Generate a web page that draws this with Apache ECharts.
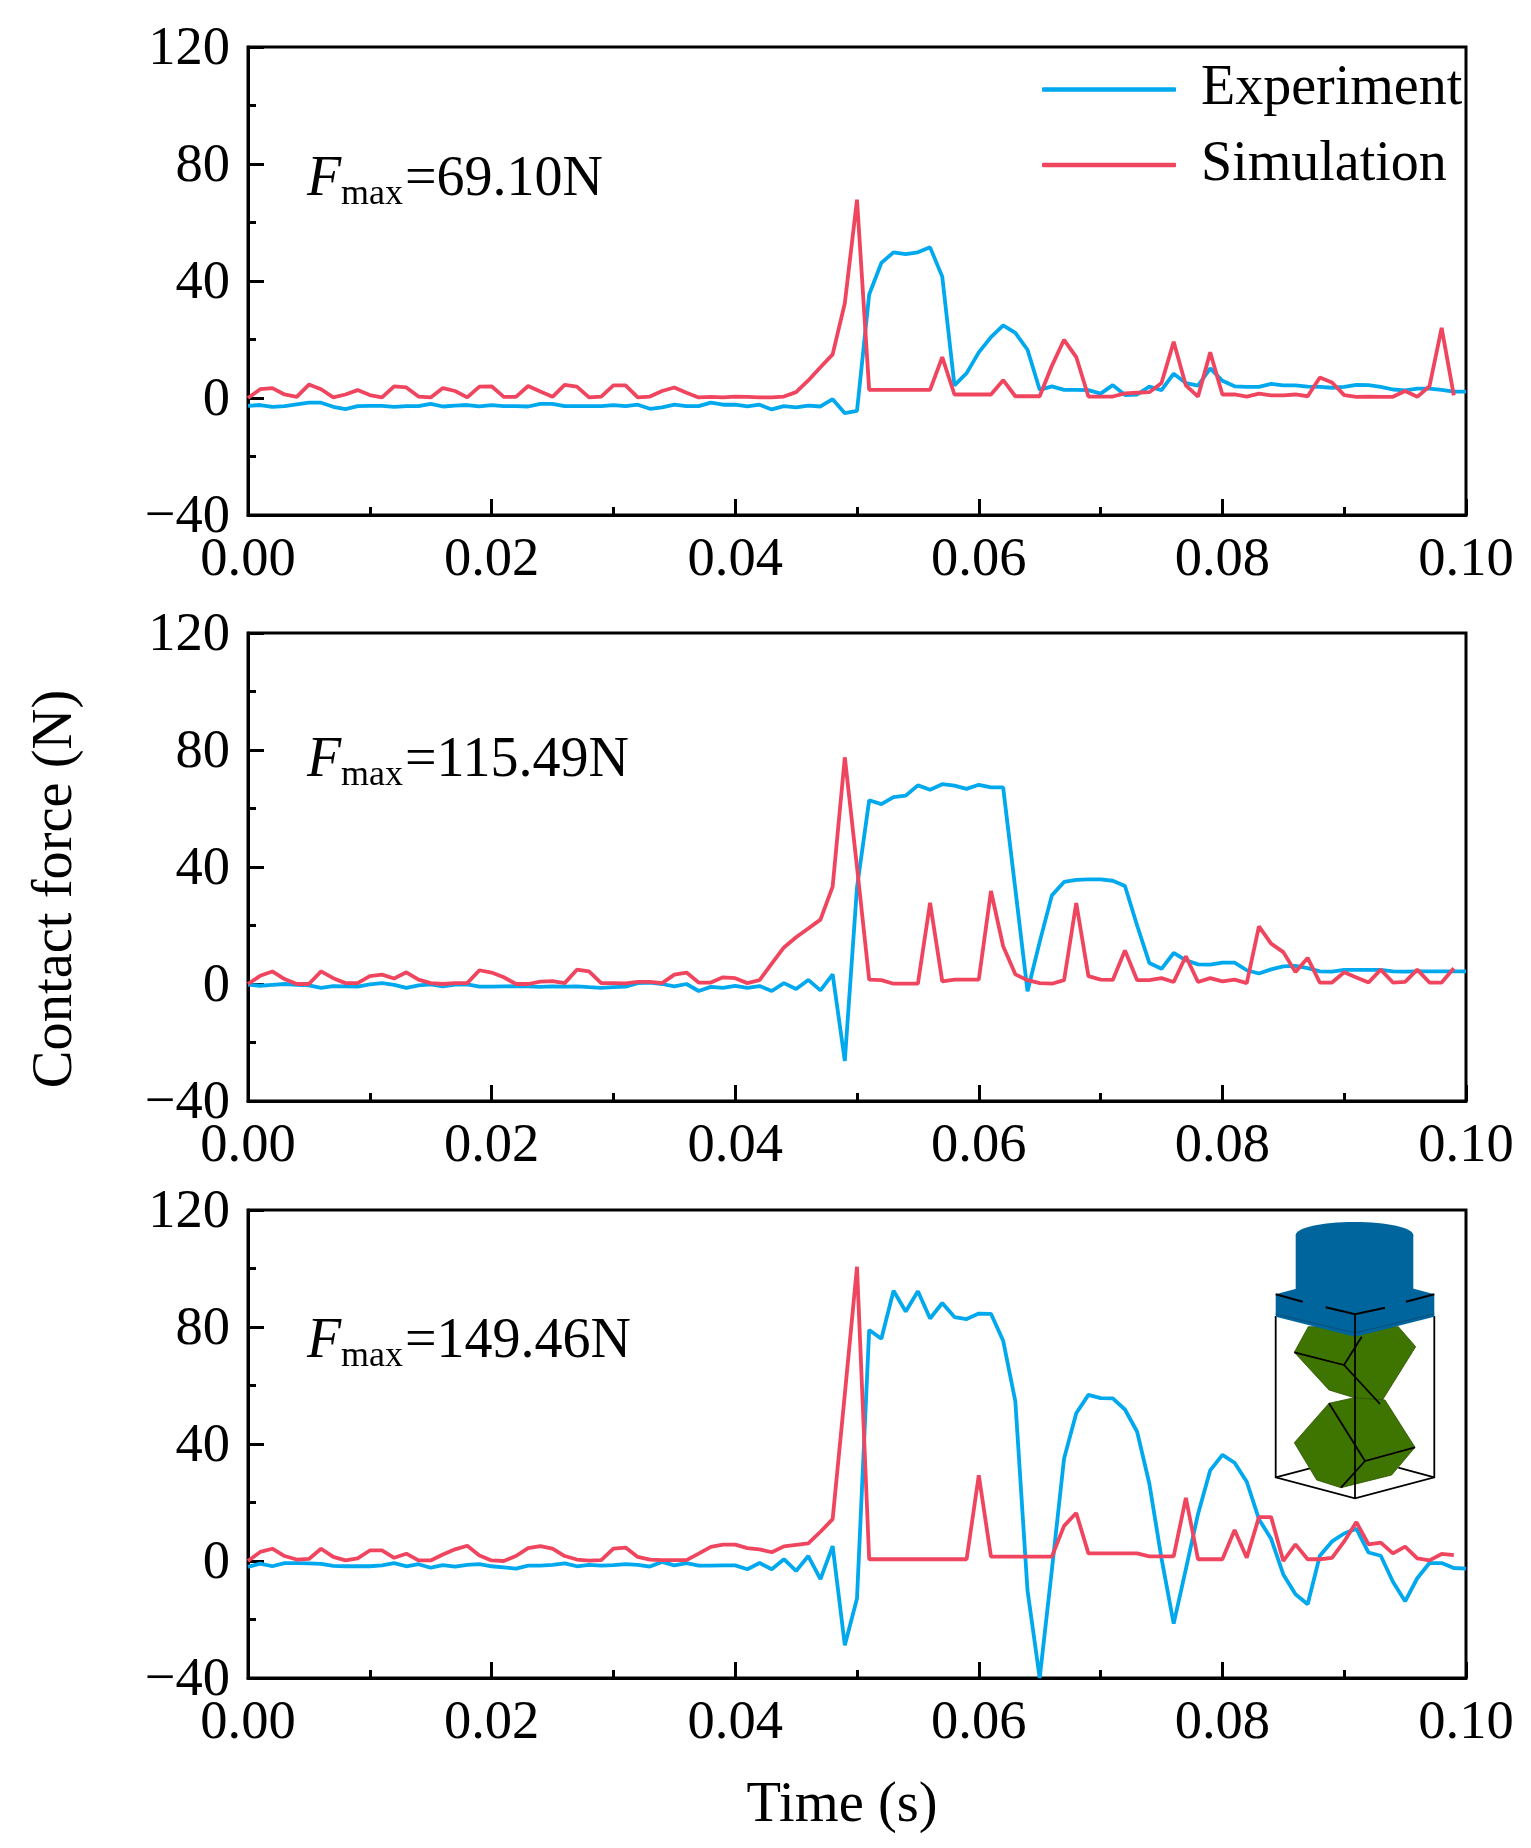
<!DOCTYPE html>
<html>
<head>
<meta charset="utf-8">
<title>Contact force</title>
<style>
  html, body { margin: 0; padding: 0; background: #fff; }
  #chart { width: 1531px; height: 1848px; }
</style>
<script src="https://cdn.jsdelivr.net/npm/echarts@6/dist/echarts.min.js"></script>
</head>
<body>
<div id="chart"></div>
<script>
var dt = 0.001;
var xTicks = [0, 0.02, 0.04, 0.06, 0.08, 0.10];
var yTicks = [-40, 0, 40, 80, 120];
var fmaxLabels = ['=69.10N', '=115.49N', '=149.46N'];

var exp1 = [
  -2.7,-2.4,-3,-2.8,-2.2,-1.6,-1.6,-3,-3.8,-2.8,
  -2.7,-2.7,-3,-2.8,-2.8,-2,-2.9,-2.6,-2.4,-2.9,
  -2.4,-2.8,-2.8,-2.9,-2,-2,-2.8,-2.8,-2.8,-2.8,
  -2.4,-2.8,-2.3,-3.7,-3.2,-2.3,-2.8,-2.8,-1.6,-2.3,
  -2.3,-2.9,-2.3,-3.9,-2.8,-3.2,-2.6,-2.9,-0.4,-5.2,
  -4.4,35.4,46.2,49.8,49.2,49.8,51.5,41.5,4.3,8.5,
  15.6,20.8,24.8,22.3,16.5,2.8,4,2.8,2.8,2.7,
  1.5,4.4,1,1.2,3.9,2.7,8.3,5.1,4.2,10.1,
  5.9,4,3.8,3.8,4.8,4.3,4.3,3.9,3.8,3.5,
  3.8,4.5,4.4,3.8,2.9,2.6,3.2,3.2,2.8,2.2,2.2
];
var sim1 = [
  0,3,3.4,1.2,0.4,4.6,3,0.2,1.2,2.7,
  1,0.2,4,3.6,0.5,0.2,3.4,2.4,0.2,3.9,
  4,0.4,0.4,4.1,2.2,0.4,4.5,3.9,0.2,0.5,
  4.3,4.3,0.2,0.5,2.4,3.6,1.8,0.2,0.4,0.2,
  0.5,0.4,0.2,0.2,0.5,2,6,10.5,14.9,32.4,
  67.8,2.8,2.8,2.8,2.8,2.8,2.8,14,1.2,1.2,
  1.2,1.2,6.1,0.6,0.6,0.6,11,19.9,14,0.5,
  0.5,0.5,1.6,1.8,2,5.1,19.2,4.3,0.5,15.6,
  1.2,1.2,0.5,1.5,0.9,0.9,1.2,0.6,7,5.3,
  1,0.4,0.5,0.4,0.4,2.4,0.4,4,24,0.9
];
var exp2 = [
  -0.2,-0.6,-0.3,0,-0.3,-0.5,-1.3,-0.7,-0.8,-0.9,
  -0.1,0.3,-0.3,-1.3,-0.5,-0.1,-0.8,-0.2,-0.1,-0.9,
  -0.9,-0.8,-0.7,-0.8,-1,-0.8,-0.9,-0.8,-1.1,-1.3,
  -1.1,-0.9,0.3,0.5,0,-0.8,0,-2.4,-1,-1.3,
  -0.6,-1.3,-0.7,-2.4,0.3,-1.7,1.4,-2.2,3.3,-26.3,
  33,62.8,61.5,63.9,64.4,67.9,66.4,68.3,67.8,66.7,
  68.1,67.2,67.2,32.4,-2.5,14.4,30.3,34.9,35.6,35.8,
  35.8,35.3,33.5,20,7.2,5.2,10.6,8.1,6.7,6.6,
  7.3,7.3,4.7,3.6,5,6,6.2,5.4,4.3,4.2,
  4.8,4.8,4.8,4.8,4.3,4.2,4.3,4.3,4.3,4.3,4.3
];
var sim2 = [
  0,2.8,4.3,1.7,0,0,4.3,2,0.3,0.3,
  2.7,3.2,1.9,4,1.5,0.3,0,0.3,0.3,4.7,
  3.9,2.3,0,0,0.8,1,0.3,4.9,4.3,0.3,
  0.3,0.2,0.7,0.7,0.3,3.2,3.9,0.5,0.5,2.3,
  2,0.3,1.3,7,12.5,16,19,22,33.3,77.5,
  40,1.5,1.3,0.1,0.1,0.1,27.8,0.9,1.5,1.5,
  1.5,31.8,12.9,3.3,1.3,0.3,0.1,1.3,27.7,2.7,
  1.5,1.4,11.5,1.3,1.3,2,0.7,9.5,0.7,2,
  0.9,1.5,0.3,19.7,13.8,10.9,4.1,8.9,0.5,0.5,
  4,2.2,0.5,4.9,0.5,0.7,4.9,0.5,0.5,5.4
];
var exp3 = [
  -2,-0.9,-1.8,-0.7,-0.7,-0.8,-1,-1.7,-1.8,-1.8,
  -1.8,-1.5,-0.7,-1.8,-1.1,-2.3,-1.4,-1.9,-1.3,-1.1,
  -1.8,-2.2,-2.6,-1.6,-1.6,-1.3,-0.8,-1.8,-1.3,-1.6,
  -1.4,-1.1,-1.3,-1.9,-0.3,-1.5,-0.7,-1.6,-1.6,-1.5,
  -1.5,-2.8,-0.7,-2.8,0.6,-3.4,1.7,-6.2,5.1,-28.8,
  -12.8,79,76,92.4,85.3,92.2,82.9,88.2,83.4,82.7,
  84.6,84.5,75.3,54.6,-10.1,-40,-3,35,50.5,56.8,
  55.7,55.6,51.8,44.2,26.5,0.9,-21.4,-2.8,16.1,31,
  36.3,33.6,27.1,14.3,7.6,-4.6,-11.4,-14.8,1.8,6.7,
  9.4,11,2.9,1.8,-7.1,-13.8,-5.9,-0.7,-0.7,-2.4,-2.6
];
var sim3 = [
  0,3.1,4.2,1.7,0.5,0.7,4.2,1.4,0.2,0.9,
  3.6,3.6,1.1,2.5,0.2,0.2,2.2,4,5.2,1.9,
  0.2,0,1.7,4.4,5.1,4.2,1.7,0.5,0.1,0.3,
  4.2,4.6,1.4,0.5,0.3,0.3,0.3,2.5,4.8,5.6,
  5.6,4.4,4,3,5,5.5,6,10,14.3,57,
  100.6,0.6,0.6,0.6,0.6,0.6,0.6,0.6,0.6,0.6,
  29.3,1.5,1.5,1.5,1.5,1.5,1.5,12,16.4,2.6,
  2.6,2.6,2.6,2.6,1.6,1.6,1.6,21.6,0.6,0.6,
  0.6,10.6,1.1,15,15,0,5.7,0.6,0.6,1.1,
  6.7,13.3,5.7,6.3,2.6,4.9,0.9,0.2,2.4,2
];

var FONT = '"Liberation Serif", "Times New Roman", serif';
var BLUE = '#00a8ee';
var RED = '#f0455f';
var TOPS = [47, 633, 1210];
var BASELINES = [199, 780, 1361];

function pairs(vals) {
  return vals.map(function (v, i) { return [+(i * dt).toFixed(3), v]; });
}

function makeGrid(top) {
  return {
    left: 248, top: top, width: 1218, height: 468,
    show: true, borderColor: '#000', borderWidth: 3, backgroundColor: 'transparent'
  };
}

function makeX(idx) {
  return {
    gridIndex: idx, type: 'value', min: 0, max: 0.1, interval: 0.02,
    axisLine: { show: true, onZero: false, lineStyle: { color: '#000', width: 3 } },
    axisTick: { show: true, inside: true, length: 16, lineStyle: { color: '#000', width: 3 } },
    minorTick: { show: true, splitNumber: 2, length: 8, lineStyle: { color: '#000', width: 3 } },
    splitLine: { show: false },
    axisLabel: {
      show: true, margin: 18, fontFamily: FONT, fontSize: 54.5, color: '#000',
      showMinLabel: true, showMaxLabel: true, hideOverlap: false,
      formatter: function (v) { return v.toFixed(2); }
    }
  };
}

function makeY(idx) {
  return {
    gridIndex: idx, type: 'value', min: yTicks[0], max: yTicks[yTicks.length - 1], interval: 40,
    axisLine: { show: true, onZero: false, lineStyle: { color: '#000', width: 3 } },
    axisTick: { show: true, inside: true, length: 16, lineStyle: { color: '#000', width: 3 } },
    minorTick: { show: true, splitNumber: 2, length: 8, lineStyle: { color: '#000', width: 3 } },
    splitLine: { show: false },
    axisLabel: {
      show: true, margin: 18, color: '#000',
      rich: { t: { fontFamily: FONT, fontSize: 54.5, color: '#000', padding: [5, 0, 0, 0] } },
      showMinLabel: true, showMaxLabel: true, hideOverlap: false,
      formatter: function (v) { return '{t|' + (v < 0 ? '\u2212' + Math.abs(v) : v) + '}'; }
    }
  };
}

function makeLine(name, vals, idx, color) {
  return {
    name: name, type: 'line', xAxisIndex: idx, yAxisIndex: idx,
    data: pairs(vals), showSymbol: false, symbol: 'none',
    lineStyle: { color: color, width: 3.8 }, itemStyle: { color: color },
    animation: false
  };
}

var xAxes = [makeX(0), makeX(1), makeX(2)];
var yAxes = [makeY(0), makeY(1), makeY(2)];
yAxes[1].name = 'Contact force (N)';
yAxes[1].nameLocation = 'middle';
yAxes[1].nameGap = 163;
yAxes[1].nameTextStyle = { fontFamily: FONT, fontSize: 56.5, color: '#000', padding: [0, 44, 0, 0] };
xAxes[2].name = 'Time (s)';
xAxes[2].nameLocation = 'middle';
xAxes[2].nameGap = 100;
xAxes[2].nameTextStyle = { fontFamily: FONT, fontSize: 56.5, color: '#000', padding: [0, 30, 0, 0] };

// F_max annotations
var notes = [];
BASELINES.forEach(function (b, k) {
  notes.push({ type: 'text', x: 307, y: b - 18.5, z: 50,
    style: { text: 'F', fontFamily: FONT, fontStyle: 'italic', fontSize: 56, fill: '#000', verticalAlign: 'middle' } });
  notes.push({ type: 'text', x: 341, y: b + 8 - 12, z: 50,
    style: { text: 'max', fontFamily: FONT, fontSize: 36, fill: '#000', verticalAlign: 'middle' } });
  notes.push({ type: 'text', x: 405, y: b - 18.5, z: 50,
    style: { text: fmaxLabels[k], fontFamily: FONT, fontSize: 56, fill: '#000', verticalAlign: 'middle' } });
});

// specimen sketch in the bottom panel
function poly(points, fill, stroke, width) {
  return { type: 'polygon', z: 60, shape: { points: points },
    style: { fill: fill || 'none', stroke: stroke || 'none', lineWidth: width || 1.5, lineJoin: 'round' } };
}
function line(points, color, width) {
  return { type: 'polyline', z: 60, shape: { points: points },
    style: { fill: 'none', stroke: color || '#000', lineWidth: width || 1.8 } };
}
var GREEN = '#3e7400', STEEL = '#00659c';
var sketch = [
  line([[1275.7, 1316], [1275.7, 1477.3], [1355, 1498.3], [1434.3, 1477.3], [1434.3, 1316]]),
  line([[1275.7, 1477.3], [1310, 1468.3]]),
  line([[1398.3, 1467.7], [1434.3, 1477.3]]),
  poly([[1308.3, 1326.7], [1294.3, 1352.3], [1329, 1390], [1354.3, 1397.7], [1380, 1404], [1415.7, 1346.7], [1398.3, 1326.7]], GREEN, '#2c5200', 0.8),
  poly([[1329, 1403.3], [1294.3, 1442.7], [1316.7, 1480], [1341, 1487.7], [1391.7, 1475], [1415, 1447.3], [1385, 1400], [1354.3, 1397.7]], GREEN, '#2c5200', 0.8),
  line([[1294.3, 1352.3], [1344, 1365], [1380, 1404]]),
  line([[1344, 1365], [1361.7, 1336.7]]),
  line([[1329, 1403.3], [1365, 1461], [1415, 1447.3]]),
  line([[1365, 1461], [1341, 1487.7]]),
  poly([[1275.7, 1294.3], [1355, 1273], [1434.3, 1294.3], [1434.3, 1316.7], [1355, 1336.7], [1275.7, 1316.7]], STEEL),
  line([[1275.7, 1314], [1355, 1333], [1434.3, 1314]], '#0b4f7e', 1.2),
  { type: 'rect', z: 60, shape: { x: 1295.7, y: 1235, width: 117.6, height: 65 }, style: { fill: STEEL } },
  { type: 'ellipse', z: 60, shape: { cx: 1354.5, cy: 1235, rx: 58.8, ry: 13 }, style: { fill: STEEL } },
  line([[1275.7, 1294.3], [1302.7, 1301.7]], '#000', 2),
  line([[1325.7, 1307.3], [1355, 1314.3], [1385, 1307.7]], '#000', 2),
  line([[1406, 1301.7], [1434.3, 1294.3]], '#000', 2),
  line([[1355, 1314.3], [1355, 1498.3]], '#000', 1.8)
];

var chart = echarts.init(document.getElementById('chart'), null, { renderer: 'canvas' });
chart.setOption({
  backgroundColor: '#fff',
  animation: false,
  textStyle: { fontFamily: FONT },
  grid: TOPS.map(makeGrid),
  xAxis: xAxes,
  yAxis: yAxes,
  legend: {
    data: ['Experiment', 'Simulation'],
    orient: 'vertical', left: 1037, top: 56.5, itemWidth: 134, itemHeight: 4.5, itemGap: 19.5,
    icon: 'roundRect',
    textStyle: { fontFamily: FONT, fontSize: 56, color: '#000', padding: [0, 0, 0, 20] },
    selectedMode: false
  },
  graphic: { elements: notes.concat(sketch) },
  series: [
    makeLine('Experiment', exp1, 0, BLUE), makeLine('Simulation', sim1, 0, RED),
    makeLine('Experiment', exp2, 1, BLUE), makeLine('Simulation', sim2, 1, RED),
    makeLine('Experiment', exp3, 2, BLUE), makeLine('Simulation', sim3, 2, RED)
  ]
});
</script>
</body>
</html>
